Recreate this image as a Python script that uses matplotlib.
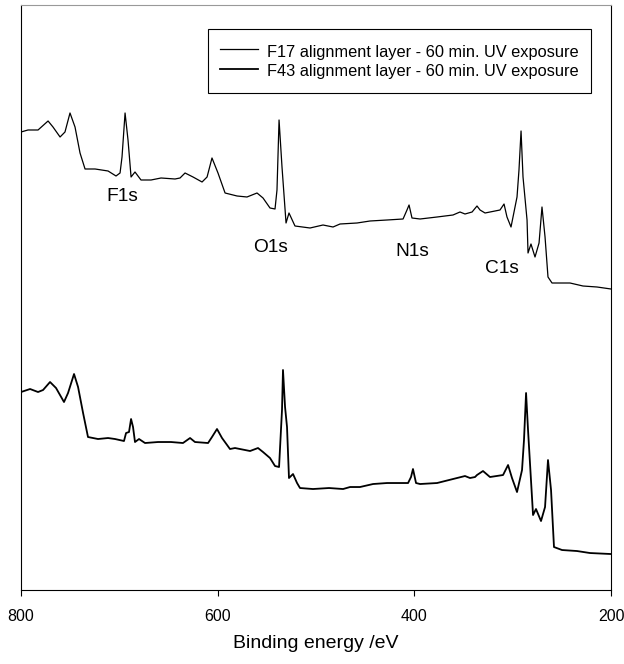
import matplotlib
matplotlib.use("Agg")
import matplotlib.pyplot as plt
import numpy as np

plt.rcParams['font.family'] = ['Liberation Sans', 'DejaVu Sans']

# F17 spectrum (upper trace), binding energy in eV and intensity in arbitrary units
f17_energy = [800.0, 792.9, 782.7, 772.5, 767.5, 760.3, 755.3, 750.2, 745.1, 740.0,
              734.9, 724.7, 711.5, 703.4, 699.3, 697.3, 694.2, 691.2, 688.1, 684.1,
              678.0, 667.8, 657.6, 643.4, 638.3, 633.2, 625.1, 615.9, 610.8, 605.8,
              599.7, 592.5, 580.3, 570.2, 560.0, 553.9, 546.8, 541.7, 539.7, 537.6,
              534.6, 530.5, 527.5, 521.4, 506.1, 492.9, 482.7, 475.6, 458.3, 445.1,
              427.8, 411.5, 407.5, 405.4, 402.4, 394.2, 376.9, 360.7, 353.6, 348.5,
              341.3, 336.3, 333.2, 328.1, 312.9, 308.8, 305.8, 301.7, 295.6, 293.6,
              291.5, 289.5, 285.4, 284.4, 281.4, 277.3, 273.2, 270.2, 267.1, 264.1,
              260.0, 251.9, 241.7, 228.5, 214.2, 200.0]
f17_counts = [458, 460, 460, 469, 463, 453, 458, 477, 463, 437,
              421, 421, 419, 414, 417, 433, 477, 450, 413, 418,
              410, 410, 412, 411, 412, 417, 413, 408, 413, 432,
              417, 397, 394, 393, 397, 392, 382, 381, 400, 470,
              423, 367, 377, 364, 362, 365, 363, 366, 367, 369,
              370, 371, 380, 385, 372, 371, 373, 375, 378, 376,
              378, 384, 380, 377, 380, 386, 373, 363, 393, 420,
              459, 413, 370, 337, 346, 333, 347, 383, 353, 313,
              307, 307, 307, 304, 303, 301]

# F43 spectrum (lower trace)
f43_energy = [800.0, 790.8, 782.7, 777.6, 770.5, 764.4, 756.3, 752.2, 746.1, 742.0,
              736.9, 731.9, 721.7, 711.5, 704.4, 695.3, 693.2, 690.2, 688.1, 686.1,
              684.1, 680.0, 673.9, 660.7, 647.5, 635.3, 628.1, 623.1, 609.8, 605.8,
              600.7, 595.6, 587.5, 582.4, 567.1, 559.0, 553.9, 546.8, 541.7, 537.6,
              534.6, 533.6, 531.5, 529.5, 527.5, 523.4, 519.3, 516.3, 503.1, 486.8,
              472.5, 465.4, 455.3, 442.0, 427.8, 406.4, 403.4, 401.4, 398.3, 394.2,
              376.9, 360.7, 348.5, 343.4, 338.3, 336.3, 330.2, 323.1, 309.8, 304.7,
              300.7, 295.6, 290.5, 288.5, 286.4, 284.4, 281.4, 279.3, 276.3, 271.2,
              267.1, 264.1, 261.0, 258.0, 249.8, 234.6, 221.4, 200.0]
f43_counts = [198, 201, 198, 200, 208, 202, 188, 197, 216, 203,
              177, 153, 151, 152, 151, 149, 157, 158, 171, 163,
              148, 151, 147, 148, 148, 147, 152, 148, 147, 153,
              161, 152, 141, 142, 139, 142, 138, 132, 124, 123,
              180, 220, 183, 163, 112, 116, 107, 102, 101, 102,
              101, 103, 103, 106, 107, 107, 113, 121, 107, 106,
              107, 111, 114, 112, 113, 115, 119, 113, 115, 125,
              112, 98, 120, 150, 197, 160, 110, 75, 81, 69,
              83, 130, 100, 43, 40, 39, 37, 36]

labels = ["F17 alignment layer - 60 min. UV exposure",
          "F43 alignment layer - 60 min. UV exposure"]

peak_names = ["F1s", "O1s", "N1s", "C1s"]
peak_label_x = [697, 546, 402, 311]
peak_label_y = [393, 343, 339, 322]

fig = plt.figure(figsize=(6.24, 6.64), dpi=100)
ax = fig.add_axes([0.0337, 0.1114, 0.9455, 0.8811])

ax.plot(f17_energy, f17_counts, color='black', lw=0.9, label=labels[0])
ax.plot(f43_energy, f43_counts, color='black', lw=1.3, label=labels[1])

for name, px, py in zip(peak_names, peak_label_x, peak_label_y):
    ax.text(px, py, name, fontsize=13.8, ha='center', va='center')

ax.set_xlim(800, 200)
ax.set_ylim(0, 585)
ax.set_xticks([800, 600, 400, 200])
ax.set_yticks([])
ax.tick_params(axis='x', direction='out', length=4.5, width=0.8, pad=9, labelsize=11.5)
for s in ax.spines.values():
    s.set_linewidth(0.8)
    s.set_color('black')
ax.spines['top'].set_color('#999999')

ax.set_xlabel("Binding energy /eV", fontsize=14, labelpad=8)

# legend box: taller rows, narrow side padding like the original
leg = ax.legend(loc='upper right', bbox_to_anchor=(0.966, 0.959), fontsize=11.8,
                fancybox=False, framealpha=1, edgecolor='black',
                handlelength=2.26, handleheight=1.45, handletextpad=0.55,
                labelspacing=0.0, borderpad=0.78, borderaxespad=0)
leg.get_frame().set_linewidth(0.8)

fig.savefig("out.png", dpi=100)
